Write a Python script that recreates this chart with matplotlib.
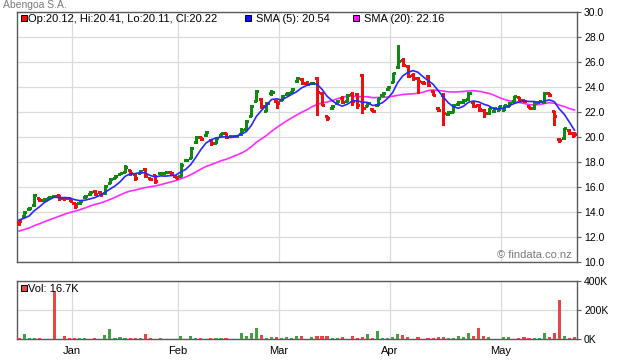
import numpy as np
import pandas as pd
import matplotlib
matplotlib.use('Agg')
import matplotlib.pyplot as plt
from matplotlib.patches import Rectangle

plt.rcParams['font.family'] = ['Liberation Sans', 'DejaVu Sans']

title = 'Abengoa S.A.'
months = ['Jan', 'Feb', 'Mar', 'Apr', 'May']
month_first_bar = [11, 32, 52, 74, 96]

# closes before the visible window (only used to warm up the moving averages)
prior_close = [11.6, 11.8, 11.7, 12.0, 11.9, 12.1, 12.3, 12.2, 12.0, 12.3,
               12.4, 12.5, 12.6, 12.4, 12.9, 13.3, 13.4, 13.3, 13.5]

opens = [13.10, 13.65, 14.25, 14.55, 15.10, 15.00, 15.10, 15.25, 15.35, 15.15, 15.10,
         14.70, 14.70, 15.20, 15.45, 15.70, 15.60, 15.50, 16.30, 16.70, 17.05, 17.20,
         17.35, 17.05, 17.10, 17.45, 16.75, 16.95, 17.10, 17.15, 17.20, 16.85,
         16.90, 18.15, 18.30, 19.60, 20.00, 20.15, 19.80, 19.55, 20.20, 20.30,
         20.05, 20.10, 20.25, 20.65, 21.70, 22.90, 23.05, 22.10, 23.50, 22.85,
         23.00, 23.45, 23.60, 24.45, 24.65, 24.35, 24.30, 24.70, 23.55, 21.65, 22.30,
         22.75, 23.15, 22.90, 23.45, 23.45, 25.00, 22.50, 22.25, 22.60, 23.35, 23.85,
         24.40, 25.60, 26.20, 25.70, 24.95, 24.75, 24.40, 24.90, 23.65, 22.30, 23.40,
         21.85, 22.00, 22.65, 22.80, 23.05, 22.80, 22.60, 22.20, 21.90, 22.05, 22.20,
         22.20, 22.50, 22.85, 23.20, 22.95, 22.50, 22.30, 22.80, 22.80, 23.50, 22.10,
         19.85, 19.90, 20.60, 20.12]
highs = [13.40, 14.10, 14.40, 15.45, 15.10, 15.10, 15.25, 15.40, 15.40, 15.20, 15.15,
         14.70, 14.95, 15.35, 15.70, 15.75, 15.68, 16.20, 16.70, 16.95, 17.15, 17.75,
         17.40, 17.10, 17.35, 17.50, 16.75, 17.00, 17.20, 17.20, 17.20, 16.90,
         17.90, 18.25, 19.20, 20.10, 20.00, 20.50, 19.80, 19.95, 20.35, 20.30,
         20.15, 20.15, 20.70, 21.35, 22.60, 23.75, 23.10, 22.80, 23.80, 22.90,
         23.35, 23.60, 23.90, 24.80, 24.70, 24.45, 24.40, 24.77, 23.60, 21.70, 22.55,
         22.95, 23.30, 23.45, 23.60, 23.50, 25.05, 22.80, 22.30, 23.15, 23.60, 24.05,
         25.15, 27.33, 26.30, 25.75, 25.10, 24.80, 24.50, 24.95, 23.70, 22.40, 23.50,
         22.05, 22.65, 22.90, 23.05, 23.60, 22.85, 22.65, 22.25, 22.35, 22.40, 22.50,
         22.60, 22.80, 23.30, 23.20, 23.00, 22.50, 22.80, 22.90, 23.60, 23.55, 22.10,
         19.90, 20.75, 20.65, 20.41]
lows = [13.00, 13.60, 14.20, 14.50, 14.90, 14.95, 15.10, 15.20, 15.00, 15.00, 14.85,
        14.35, 14.65, 15.15, 15.40, 15.35, 15.36, 15.45, 16.30, 16.70, 17.05, 17.20,
        17.00, 16.55, 17.10, 16.80, 16.55, 16.35, 17.05, 17.15, 17.05, 16.70,
        16.90, 18.10, 18.30, 19.55, 19.80, 20.10, 19.35, 19.55, 20.10, 19.95,
        20.00, 20.05, 20.20, 20.60, 21.70, 22.90, 22.30, 22.05, 23.40, 22.35,
        23.00, 23.40, 23.60, 24.40, 24.25, 24.20, 24.25, 21.76, 22.55, 21.40, 22.25,
        22.70, 22.70, 22.85, 22.60, 22.30, 21.90, 22.45, 22.05, 22.60, 23.30, 23.80,
        24.40, 25.50, 25.65, 24.80, 24.60, 23.50, 24.25, 24.10, 23.35, 22.10, 20.95,
        21.75, 22.00, 22.60, 22.75, 23.00, 22.40, 22.10, 21.60, 21.85, 22.00, 22.15,
        22.15, 22.45, 22.80, 22.95, 22.80, 22.30, 22.25, 22.80, 22.70, 23.30, 21.00,
        19.60, 19.85, 20.25, 20.11]
closes = [13.30, 14.00, 14.30, 15.40, 15.00, 15.05, 15.20, 15.30, 15.15, 15.10, 14.90,
          14.50, 14.90, 15.30, 15.60, 15.45, 15.40, 16.10, 16.60, 16.85, 17.10, 17.60,
          17.10, 16.70, 17.30, 16.90, 16.60, 16.50, 17.15, 17.20, 17.10, 16.75,
          17.80, 18.20, 19.10, 20.00, 19.85, 20.40, 19.50, 19.90, 20.30, 20.00,
          20.10, 20.12, 20.60, 21.30, 22.50, 23.70, 22.50, 22.70, 23.60, 22.75,
          23.30, 23.55, 23.85, 24.70, 24.30, 24.25, 24.32, 23.60, 22.60, 21.55, 22.50,
          22.90, 22.80, 23.35, 22.85, 22.60, 22.30, 22.75, 22.10, 23.10, 23.50, 24.00,
          25.10, 26.10, 25.75, 24.90, 24.70, 24.45, 24.35, 24.20, 23.40, 22.20, 21.90,
          22.00, 22.60, 22.80, 22.95, 23.55, 22.50, 22.25, 21.90, 22.30, 22.35, 22.45,
          22.55, 22.75, 23.25, 23.00, 22.85, 22.35, 22.75, 22.85, 23.50, 23.40, 21.65,
          19.80, 20.70, 20.35, 20.22]
# volume in thousands
volumes = [9, 35, 7, 7, 7, 0, 0, 330, 0, 21, 7,
           7, 7, 7, 0, 7, 0, 28, 70, 7, 14, 7, 7, 7, 7, 35, 7, 0, 7, 0, 0, 0,
           21, 0, 21, 7, 7, 0, 7, 7, 7, 7, 0, 0, 44, 21, 44, 77, 28, 7, 14, 14,
           7, 14, 7, 21, 21, 0, 14, 21, 21, 21, 7, 7, 14, 0, 21, 7, 14, 35, 7, 56, 7, 7,
           14, 35, 28, 14, 0, 14, 0, 7, 7, 14, 14, 7, 7, 21, 14, 42, 21, 77, 21, 14, 0, 0,
           14, 14, 0, 7, 14, 7, 7, 7, 42, 14, 42, 272, 21, 7, 16.7]

W, H = 620, 360
GREEN = '#0e8a0e'
RED = '#ee1010'
VOL_GREEN = '#45a045'
VOL_RED = '#e84545'
GRID = '#dadada'
FRAME = '#5a5a5a'
FS = 7.5


def fig_rect(x0, y0, x1, y1):
    return [x0 / W, 1 - y1 / H, (x1 - x0) / W, (y1 - y0) / H]


def style_axes(a):
    for s in a.spines.values():
        s.set_color(FRAME)
        s.set_linewidth(1.0)
    a.set_facecolor('white')
    a.set_axisbelow(True)
    a.grid(True, color=GRID, lw=0.9)
    a.yaxis.tick_right()
    a.tick_params(axis='y', length=3, width=0.8, color=FRAME, labelsize=FS, pad=2)
    a.set_xlim(-0.4, 110.5)
    a.set_xticks([m - 0.55 for m in month_first_bar])


def legend_item(x, y, color, text, gap=7):
    fig.add_artist(Rectangle((x / W, 1 - (y + 6) / H), 6 / W, 6 / H, transform=fig.transFigure,
                             facecolor=color, edgecolor='black', lw=0.7))
    fig.text((x + 6 + gap) / W, 1 - (y + 6.5) / H, text, fontsize=8, va='baseline', color='black')


o = np.array(opens)
h = np.array(highs)
l = np.array(lows)
c = np.array(closes)
v = np.array(volumes)
x = np.arange(len(c))

prev = np.r_[prior_close[-1], c[:-1]]
up = c >= prev
bar_col = np.where(up, GREEN, RED)
vol_col = np.where(up, VOL_GREEN, VOL_RED)
vol_col[7] = VOL_RED  # the big volume day is a down day on the chart

all_close = pd.Series(np.r_[prior_close, c])
sma5 = all_close.rolling(5).mean().to_numpy()[len(prior_close):]
sma20 = all_close.rolling(20).mean().to_numpy()[len(prior_close):]

fig = plt.figure(figsize=(W / 100, H / 100), dpi=100)
fig.patch.set_facecolor('white')

ax = fig.add_axes(fig_rect(17, 12, 577, 262))
style_axes(ax)
ax.set_ylim(10, 30)
ax.set_yticks(np.arange(10, 31, 2))
ax.set_yticklabels([f'{t:.1f}' for t in np.arange(10, 31, 2)])
ax.tick_params(axis='x', length=0, labelbottom=False)

ax.plot(x, sma20, color='#ff2cff', lw=1.2, zorder=2)
ax.vlines(x, l, h, colors=bar_col, lw=1.0, antialiased=False, zorder=3)
ax.hlines(o, x - 0.42, x, colors=bar_col, lw=1.0, antialiased=False, zorder=3)
ax.hlines(c, x, x + 0.42, colors=bar_col, lw=1.0, antialiased=False, zorder=3)
ax.plot(x, sma5, color='#2828ff', lw=1.2, zorder=4)

axv = fig.add_axes(fig_rect(17, 281, 577, 339))
style_axes(axv)
axv.bar(x, v, width=0.62, color=vol_col, zorder=3)
axv.set_ylim(0, 400)
axv.set_yticks([0, 200, 400])
axv.set_yticklabels(['0K', '200K', '400K'])
axv.set_xticklabels(months)
axv.tick_params(axis='x', length=0, labelsize=FS + 0.5, pad=5)

fig.text(3 / W, 1 - 8 / H, title, fontsize=FS, color='#7a7a7a', va='baseline')
legend_item(21, 15, RED, f'Op:{o[-1]:.2f}, Hi:{h[-1]:.2f}, Lo:{l[-1]:.2f}, Cl:{c[-1]:.2f}', gap=1)
legend_item(245, 15, '#1010ff', f'SMA (5): {sma5[-1]:.2f}', gap=5)
legend_item(353, 15, '#ff10ff', f'SMA (20): {sma20[-1]:.2f}', gap=5)
legend_item(21, 285, VOL_RED, f'Vol: {v[-1]:.1f}K', gap=1)
fig.text(572 / W, 1 - 258 / H, '\u00a9 findata.co.nz', fontsize=FS + 0.5, color='#777777',
         ha='right', va='baseline')

fig.savefig('out.png', dpi=100, facecolor='white')
